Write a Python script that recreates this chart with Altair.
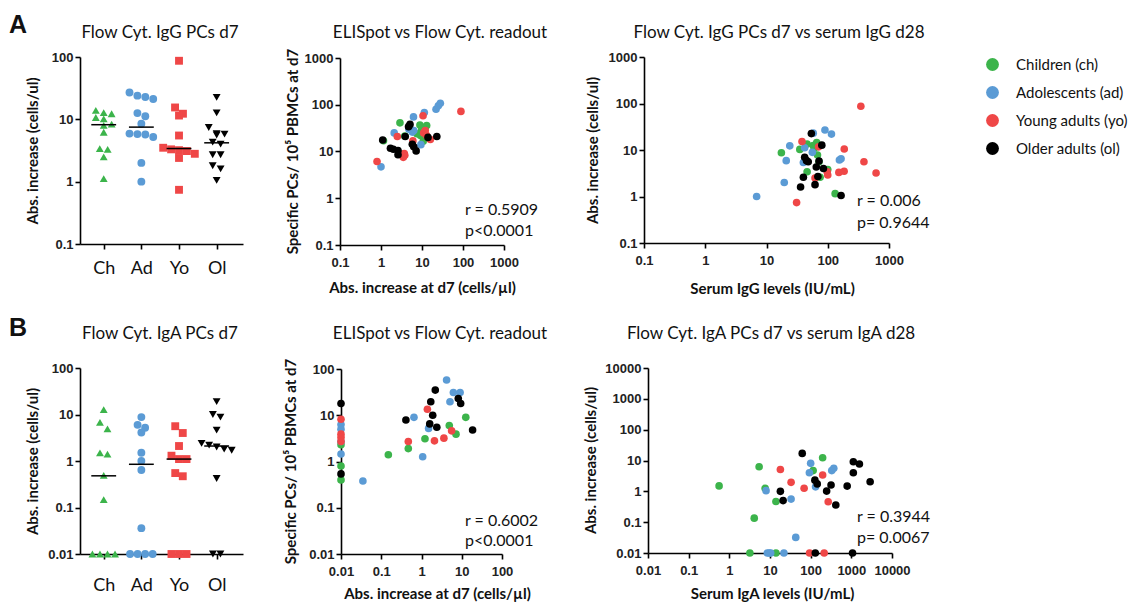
import altair as alt
import pandas as pd
import numpy as np

GROUPS = ["Children (ch)", "Adolescents (ad)", "Young adults (yo)", "Older adults (ol)"]
COLORS = ["#3CB44B", "#5B9BD5", "#EF4747", "#000000"]
SHAPES = ["triangle-up", "circle", "square", "triangle-down"]
CATS = ["Ch", "Ad", "Yo", "Ol"]

# ---- Panel A1: Flow Cyt. IgG PCs d7 (cells/ul) ----
igg_ch = [13.9, 12.8, 12.3, 10.7, 10.2, 8.4, 8.0, 6.2, 3.4, 3.3, 2.5, 1.12]
igg_ad = [27, 24, 22.8, 21.2, 12.6, 11.2, 8.5, 5.9, 5.8, 5.7, 5.2, 2.0, 1.0]
igg_yo = [87, 15.5, 12.3, 11.5, 5.5, 3.5, 3.3, 3.2, 3.1, 2.8, 2.4, 0.74]
igg_ol = [22.5, 12.7, 7.4, 5.9, 5.8, 5.6, 4.3, 4.0, 2.7, 2.7, 1.8, 1.6, 1.05]
igg_medians = [8.2, 7.5, 3.4, 4.2]

# ---- Panel B1: Flow Cyt. IgA PCs d7 (cells/ul) ----
iga_ch = [12.7, 6.8, 4.9, 1.5, 1.4, 0.49, 0.148, 0.01, 0.01, 0.01, 0.01]
iga_ad = [8.8, 6.0, 5.2, 4.1, 1.5, 1.0, 0.64, 0.036, 0.01, 0.01, 0.01, 0.01]
iga_yo = [5.6, 4.0, 2.1, 1.3, 1.1, 1.1, 0.55, 0.47, 0.01, 0.01, 0.01]
iga_ol = [19, 10, 8.8, 4.6, 2.4, 2.2, 2.0, 1.8, 1.7, 0.42, 0.01, 0.01]
iga_medians = [0.48, 0.85, 1.1, 2.1]

# ---- Panel A2: ELISpot vs Flow Cyt. (IgG) ----
a2_ch_x = [1.15, 2.9, 3.8, 3.6, 8.9, 13.0, 9.8, 9.2, 10.7, 7.5, 12.0]
a2_ch_y = [17, 41, 21.5, 8.8, 37, 36, 29, 22, 16.5, 24, 33]
a2_ad_x = [1.0, 2.1, 5.8, 6.2, 11.4, 22, 25, 28, 6.3, 9.4, 4.8]
a2_ad_y = [4.7, 25, 26, 55, 68, 80, 95, 108, 28, 14, 30]
a2_yo_x = [0.8, 2.5, 3.5, 3.7, 10.6, 89, 11, 16, 13, 6.0, 12, 3.8]
a2_yo_y = [6.1, 21, 7.5, 9.0, 58, 72, 25, 18, 22, 17, 28, 8.3]
a2_ol_x = [1.1, 1.7, 2.0, 2.6, 2.6, 3.9, 4.7, 5.1, 5.8, 6.3, 7.2, 14, 23]
a2_ol_y = [17.6, 11.7, 11.2, 10.5, 8.5, 21, 34, 38, 14.3, 12.6, 10.3, 20, 21]

# ---- Panel A3: Flow Cyt. IgG PCs d7 vs serum IgG d28 ----
a3_ch_x = [17.5, 35, 46, 66, 58, 68, 72, 46, 100, 132, 60, 75]
a3_ch_y = [8.7, 10.3, 13.5, 14.5, 12.5, 7.8, 5.6, 3.4, 3.8, 1.15, 10.8, 2.6]
a3_ad_x = [6.9, 19.5, 21, 24, 42, 58, 90, 115, 56, 40, 155, 165]
a3_ad_y = [1.0, 2.0, 5.9, 12.3, 11.2, 23, 27, 22, 8.9, 5.4, 6.1, 6.5]
a3_yo_x = [347, 38, 71, 186, 390, 185, 98, 152, 615, 100, 62, 31]
a3_yo_y = [87, 15.2, 11.7, 10.5, 5.6, 3.5, 3.4, 3.3, 3.2, 2.9, 2.5, 0.74]
a3_ol_x = [54, 80, 42, 48, 45, 72, 65, 85, 40, 69, 62, 36, 165]
a3_ol_y = [22.5, 12.7, 7.0, 5.6, 5.9, 5.8, 4.3, 4.0, 2.6, 2.7, 1.8, 1.6, 1.05]

# ---- Panel B2: ELISpot vs Flow Cyt. (IgA) ----
b2_ch_x = [12.6, 7.2, 4.9, 1.22, 0.47, 0.15, 0.01, 0.01, 0.01]
b2_ch_y = [9.0, 3.9, 6.0, 3.1, 1.9, 1.4, 2.3, 0.8, 0.4]
b2_ad_x = [4.2, 6.2, 9.1, 5.1, 0.65, 1.5, 1.07, 0.035, 0.01, 0.01, 0.01, 0.01]
b2_ad_y = [58, 31, 31, 19.6, 9.0, 5.2, 1.27, 0.38, 6.3, 5.0, 1.45, 2.7]
b2_yo_x = [1.4, 5.6, 3.6, 2.1, 0.47, 0.01, 0.01, 0.01, 0.01]
b2_yo_y = [13.5, 4.6, 3.2, 2.8, 2.7, 8.2, 3.9, 3.3, 2.7]
b2_ol_x = [2.2, 8.2, 9.4, 1.7, 1.9, 0.41, 1.6, 2.4, 18.6, 0.01, 0.01]
b2_ol_y = [35, 23, 18, 19.6, 10, 7.9, 6.5, 5.5, 4.8, 18, 0.54]

# ---- Panel B3: Flow Cyt. IgA PCs d7 vs serum IgA d28 ----
b3_ch_x = [0.56, 5.4, 7.6, 14, 4.1, 197, 115, 3.2, 14]
b3_ch_y = [1.5, 6.3, 1.25, 0.47, 0.135, 12.3, 4.7, 0.01, 0.01]
b3_ad_x = [100, 93, 330, 370, 8.0, 33, 132, 43, 8.6, 9.6, 10.4, 22]
b3_ad_y = [8.1, 4.0, 4.7, 5.6, 1.05, 0.56, 1.4, 0.032, 0.01, 0.01, 0.01, 0.01]
b3_yo_x = [18, 33, 69, 197, 270, 94, 215]
b3_yo_y = [5.1, 1.96, 1.26, 3.4, 0.46, 0.01, 0.01]
b3_ol_x = [62, 1120, 1580, 1120, 2900, 790, 127, 145, 317, 247, 18, 21, 415, 130, 1070]
b3_ol_y = [17, 9.1, 7.7, 4.0, 2.05, 1.48, 2.3, 1.74, 1.6, 1.02, 1.0, 0.5, 0.36, 0.01, 0.01]

TITLES = ["Flow Cyt. IgG PCs d7", "ELISpot vs Flow Cyt. readout",
          "Flow Cyt. IgG PCs d7 vs serum IgG d28", "Flow Cyt. IgA PCs d7",
          "ELISpot vs Flow Cyt. readout", "Flow Cyt. IgA PCs d7 vs serum IgA d28"]
STATS = [None, ["r = 0.5909", "p<0.0001"], ["r = 0.006", "p= 0.9644"], None,
         ["r = 0.6002", "p<0.0001"], ["r = 0.3944", "p= 0.0067"]]
Y_TITLES = ["Abs. increase (cells/ul)", "Specific PCs/ 10\u2075  PBMCs at d7", "Abs. increase (cells/ul)",
            "Abs. increase (cells/ul)", "Specific PCs/ 10\u2075  PBMCs at d7", "Abs. increase (cells/ul)"]
X_TITLES = [None, "Abs. increase at d7 (cells/\u00b5l)", "Serum IgG levels (IU/mL)",
            None, "Abs. increase at d7 (cells/\u00b5l)", "Serum IgA levels (IU/mL)"]

H = 610
TITLE_FONT = "Lato"
LABEL_FONT = "Liberation Sans"

color_enc = alt.Color(
    "group:N",
    scale=alt.Scale(domain=GROUPS, range=COLORS),
    legend=alt.Legend(orient="none", legendX=985, legendY=57, title=None, symbolType="circle",
                      symbolSize=165, symbolStrokeWidth=0, labelFont=TITLE_FONT, labelFontSize=15,
                      labelColor="#111", rowPadding=12, labelOffset=16, padding=0),
)


def log_axis(vals, orient, offset, title, tx, ty):
    kw = dict(values=vals, format="~g", orient=orient, offset=offset, grid=False,
              labelOverlap=False, labelFlush=False, titleBaseline="middle", titleAlign="center")
    if title:
        kw.update(title=title, titleX=tx, titleY=ty)
    else:
        kw.update(title=None)
    if orient == "bottom":
        kw.update(labelPadding=6)
    else:
        kw.update(labelPadding=2)
    return alt.Axis(**kw)


def text_layer(text, x, y, size=17, weight="normal", align="center", font=TITLE_FONT, baseline="alphabetic"):
    return alt.Chart(pd.DataFrame({"t": [text]})).mark_text(
        font=font, fontSize=size, fontWeight=weight, align=align, baseline=baseline, color="#111"
    ).encode(text="t:N", x=alt.value(x), y=alt.value(y))


def dot_panel(values_by_cat, medians, y_dom, y_vals, xr, yr, thresh, step, ytitle_x, ytitle_y,
              title, tpos, cat_pad):
    rows = []
    for ci, vals in enumerate(values_by_cat):
        lv = np.log10(np.array(vals, dtype=float))
        order = np.argsort(-lv, kind="stable")
        clusters = []
        for idx in order:
            if clusters and abs(lv[clusters[-1][0]] - lv[idx]) < thresh:
                clusters[-1].append(idx)
            else:
                clusters.append([idx])
        for cl in clusters:
            n = len(cl)
            for k, idx in enumerate(cl):
                rows.append({"xpos": ci + (k - (n - 1) / 2) * step, "value": vals[idx],
                             "group": GROUPS[ci], "shape": SHAPES[ci]})
    df = pd.DataFrame(rows)
    med = pd.DataFrame({"xpos": [i - 0.33 for i in range(4)], "hi": [i + 0.33 for i in range(4)],
                        "value": medians})
    xdom = [-0.63, 3.7]
    xscale = alt.Scale(domain=xdom, range=xr, nice=False, zero=False)
    yscale = alt.Scale(type="log", domain=y_dom, range=yr, nice=False)
    label_expr = "[" + ",".join("'%s'" % c for c in CATS) + "][datum.value]"
    xaxis = alt.Axis(values=[0, 1, 2, 3], labelExpr=label_expr, title=None, orient="bottom",
                     offset=yr[0] - H, grid=False, labelFont=TITLE_FONT, labelFontWeight="normal",
                     labelFontSize=18, labelColor="#111", labelPadding=cat_pad, labelOverlap=False)
    yaxis = log_axis(y_vals, "left", -xr[0], "Abs. increase (cells/ul)", ytitle_x - xr[0], ytitle_y)
    pts = alt.Chart(df).mark_point(filled=True, size=62, opacity=1).encode(
        x=alt.X("xpos:Q", scale=xscale, axis=xaxis),
        y=alt.Y("value:Q", scale=yscale, axis=yaxis),
        color=color_enc,
        shape=alt.Shape("shape:N", scale=None, legend=None),
    )
    rule = alt.Chart(med).mark_rule(color="black", strokeWidth=1.5).encode(
        x=alt.X("xpos:Q", scale=xscale, axis=xaxis),
        x2="hi:Q",
        y=alt.Y("value:Q", scale=yscale, axis=yaxis),
    )
    return alt.layer(pts, rule, text_layer(title, tpos[0], tpos[1]))


def scatter_panel(xs, ys, x_dom, x_vals, y_dom, y_vals, xr, yr, ytitle, ytx, yty, xtitle, xtx, xty,
                  title, tpos, stats, spos):
    rows = []
    for gi in range(4):
        for xv, yv in zip(xs[gi], ys[gi]):
            rows.append({"xv": xv, "yv": yv, "group": GROUPS[gi]})
    df = pd.DataFrame(rows)
    xscale = alt.Scale(type="log", domain=x_dom, range=xr, nice=False)
    yscale = alt.Scale(type="log", domain=y_dom, range=yr, nice=False)
    xaxis = log_axis(x_vals, "bottom", yr[0] - H, xtitle, xtx, xty - yr[0])
    yaxis = log_axis(y_vals, "left", -xr[0], ytitle, ytx - xr[0], yty)
    pts = alt.Chart(df).mark_point(filled=True, size=58, opacity=1).encode(
        x=alt.X("xv:Q", scale=xscale, axis=xaxis),
        y=alt.Y("yv:Q", scale=yscale, axis=yaxis),
        color=color_enc,
    )
    layers = [pts, text_layer(title, tpos[0], tpos[1])]
    layers.append(text_layer(stats[0], spos[0], spos[1], size=16, align="left", baseline="middle"))
    layers.append(text_layer(stats[1], spos[0], spos[2], size=16, align="left", baseline="middle"))
    return alt.layer(*layers)


dec = lambda a, b: [10.0 ** k for k in range(a, b + 1)]

A1 = dot_panel([igg_ch, igg_ad, igg_yo, igg_ol], igg_medians, [0.1, 100], dec(-1, 2),
               [80, 243], [244, 57], 0.11, 0.21, 32, 150.5, TITLES[0], (160, 38), 10)
B1 = dot_panel([iga_ch, iga_ad, iga_yo, iga_ol], iga_medians, [0.01, 100], dec(-2, 2),
               [80, 243], [554, 368], 0.15, 0.2, 32, 461, TITLES[3], (160, 339), 17)

A2 = scatter_panel([a2_ch_x, a2_ad_x, a2_yo_x, a2_ol_x], [a2_ch_y, a2_ad_y, a2_yo_y, a2_ol_y],
                   [0.1, 1000], dec(-1, 3), [0.1, 1000], dec(-1, 3), [340, 504], [245, 58],
                   Y_TITLES[1], 292, 151, X_TITLES[1], 422, 287, TITLES[1], (440, 38),
                   STATS[1], (465, 210, 231))
A3 = scatter_panel([a3_ch_x, a3_ad_x, a3_yo_x, a3_ol_x], [a3_ch_y, a3_ad_y, a3_yo_y, a3_ol_y],
                   [0.1, 1000], dec(-1, 3), [0.1, 1000], dec(-1, 3), [644, 889], [243, 57],
                   Y_TITLES[2], 592, 150, X_TITLES[2], 772, 288, TITLES[2], (779, 38),
                   STATS[2], (857, 201, 223))
B2 = scatter_panel([b2_ch_x, b2_ad_x, b2_yo_x, b2_ol_x], [b2_ch_y, b2_ad_y, b2_yo_y, b2_ol_y],
                   [0.01, 100], dec(-2, 2), [0.01, 100], dec(-2, 2), [341, 502], [554, 369],
                   Y_TITLES[4], 290, 461, X_TITLES[4], 437, 593, TITLES[4], (440, 339),
                   STATS[4], (465, 521, 541))
B3 = scatter_panel([b3_ch_x, b3_ad_x, b3_yo_x, b3_ol_x], [b3_ch_y, b3_ad_y, b3_yo_y, b3_ol_y],
                   [0.01, 10000], dec(-2, 4), [0.01, 10000], dec(-2, 4), [648, 892], [553, 368],
                   Y_TITLES[5], 590, 460, X_TITLES[5], 772, 593, TITLES[5], (771, 339),
                   STATS[5], (857, 517, 538))

letters = [text_layer("A", 9, 33, size=25, weight="bold", align="left", font=LABEL_FONT),
           text_layer("B", 9, 336, size=25, weight="bold", align="left", font=LABEL_FONT)]

chart = alt.layer(A1, A2, A3, B1, B2, B3, *letters).resolve_scale(
    x="independent", y="independent", color="shared"
).resolve_axis(
    x="independent", y="independent"
).properties(
    width=1140, height=610, autosize=alt.AutoSizeParams(type="none"), padding=0,
    background="white",
).configure_view(stroke=None).configure_axis(
    domainColor="black", domainWidth=1.6, tickColor="black", tickWidth=1.6, tickSize=5,
    labelFont=LABEL_FONT, labelFontWeight="bold", labelFontSize=13, labelColor="#222",
    titleFont=TITLE_FONT, titleFontWeight="bold", titleFontSize=15, titleColor="#111",
)

chart.save("out.html", embed_options={"renderer": "svg", "actions": False})
